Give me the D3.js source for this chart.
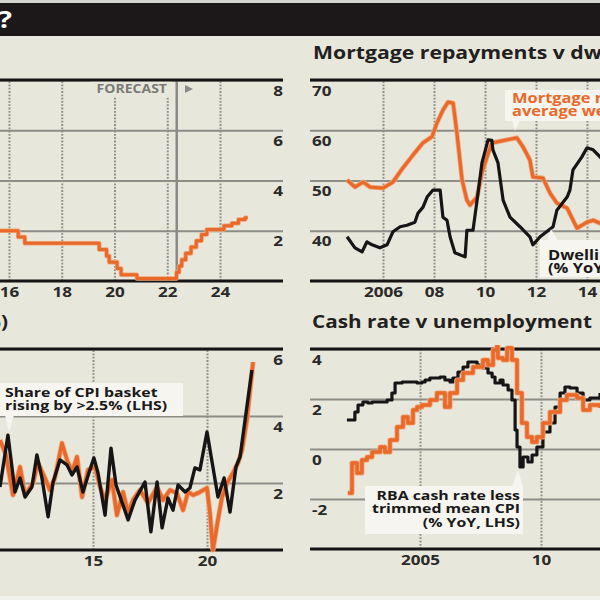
<!DOCTYPE html>
<html><head><meta charset="utf-8">
<script src="https://cdn.jsdelivr.net/npm/d3@7"></script>
<style>
html,body{margin:0;padding:0;background:#e8e7db;}
svg{display:block;}
text{font-family:"Open Sans",sans-serif;font-weight:700;}
</style></head><body>
<svg id="c" width="600" height="600"></svg>
<script>
// ---------- DATA ----------
// Top-left: RBA cash rate (%), actual + forecast
const cashRateYear  = [15.5,16.35,16.6,19.42,19.7,19.8,20.1,20.25,20.85,22.35,22.45,22.55,22.7,22.9,23.1,23.3,23.5,24.15,24.45,24.7,24.95,25.05];
const cashRateValue = [2.0,1.75,1.5,1.25,1.0,0.75,0.5,0.25,0.1,0.35,0.6,0.85,1.1,1.35,1.6,1.85,2.05,2.2,2.3,2.45,2.52,2.52];
const tlXTicks = [14,16,18,20,22,24];
const tlYTicks = [2,4,6,8];

// Top-right: mortgage repayments v dwelling prices
const dwellYear  = [2004.59,2004.9,2005.18,2005.37,2005.57,2005.88,2006.16,2006.39,2006.67,2006.94,2007.25,2007.37,2007.57,2007.73,2007.96,2008.24,2008.35,2008.51,2008.63,2008.82,2009.22,2009.29,2009.53,2009.69,2009.88,2010.12,2010.27,2010.31,2010.51,2010.71,2010.98,2011.37,2011.76,2011.88,2012.16,2012.67,2012.82,2013.22,2013.33,2013.45,2013.8,2014.0,2014.24,2014.51,2014.8];
const dwellValue = [38.8,36.6,35.8,37.8,37.2,36.6,37.2,39.8,40.8,41.1,41.7,43.5,44.7,46.7,48.1,48.1,42.7,42.1,38.8,35.6,34.8,40.1,40.1,46.1,53.5,58.1,58.0,56.1,53.5,46.1,42.7,40.8,38.8,37.2,38.8,40.8,44.1,46.7,48.1,52.1,54.7,56.5,56.1,54.7,53.0];
const mortYear  = [2004.59,2004.9,2005.22,2005.49,2006.0,2006.39,2006.78,2007.18,2007.57,2007.92,2008.12,2008.35,2008.55,2008.75,2008.9,2009.1,2009.29,2009.41,2009.69,2009.88,2010.08,2010.27,2010.47,2010.86,2011.25,2011.49,2011.76,2011.88,2012.27,2012.55,2012.82,2013.22,2013.61,2014.0,2014.24,2014.51,2014.8];
const mortValue = [50.1,48.7,49.7,48.7,48.5,49.7,52.5,55.1,57.5,58.7,61.5,64.0,65.6,65.4,59.4,50.1,46.1,45.1,46.7,51.5,54.7,57.5,57.7,58.1,58.5,56.7,54.1,50.7,50.5,47.5,45.5,44.5,40.5,41.7,42.1,41.5,41.8];
const trXTicks = [2006,2008,2010,2012,2014];
const trYTicks = [40,50,60,70];

// Bottom-left: share of CPI basket rising >2.5% and inflation
const shareYear  = [10.92,11.27,11.58,11.8,12.02,12.32,12.54,12.76,13.03,13.25,13.55,13.86,14.08,14.3,14.56,14.82,15.04,15.22,15.53,15.79,16.01,16.27,16.54,16.84,17.28,17.54,17.81,18.03,18.29,18.51,18.73,19.04,19.25,19.47,19.69,20.0,20.26,20.48,20.75,21.01,21.27,21.45,21.67,21.97];
const shareValue = [1.88,3.43,1.73,2.15,1.58,1.88,2.84,2.15,0.99,2.03,2.69,2.54,2.24,2.48,1.73,2.3,2.75,2.3,1.04,3.04,1.94,1.43,0.9,1.49,2.03,0.54,2.03,0.66,1.55,1.19,1.94,1.73,1.85,2.45,2.39,3.52,2.48,1.58,2.15,1.13,2.48,2.78,3.88,5.37];
const cpiYear  = [10.92,11.18,11.49,11.8,12.02,12.37,12.59,12.89,13.11,13.33,13.64,13.86,14.08,14.3,14.52,14.78,15.09,15.31,15.53,15.83,16.05,16.32,16.54,16.75,17.06,17.41,17.81,18.07,18.38,18.68,18.95,19.17,19.39,19.69,20.0,20.13,20.26,20.48,20.66,20.88,21.14,21.36,21.54,21.75,22.02];
const cpiValue = [3.28,2.84,1.64,2.48,1.64,2.0,2.6,2.15,1.79,2.15,3.19,2.69,2.33,2.78,1.58,2.39,2.48,1.88,1.49,2.09,1.04,1.73,1.1,1.49,1.79,1.4,1.88,1.49,1.79,1.7,1.19,1.73,1.64,1.73,1.85,1.1,0.0,0.9,1.58,2.0,2.3,2.6,2.99,3.88,5.61];
const blXTicks = [10,15,20];
const blYTicks = [2,4,6];

// Bottom-right: cash rate v unemployment
const realYear  = [2001.98,2002.23,2002.31,2002.44,2002.64,2002.85,2003.02,2003.64,2003.84,2003.97,2004.26,2004.88,2005.08,2005.21,2005.41,2005.83,2006.03,2006.24,2006.36,2006.57,2006.78,2006.98,2007.19,2007.36,2007.6,2007.81,2007.98,2008.1,2008.31,2008.43,2008.64,2008.8,2008.93,2009.01,2009.13,2009.26,2009.46,2009.63,2009.83,2010.08,2010.37,2010.58,2010.79,2010.99,2011.2,2011.49,2011.74,2012.02,2012.44];
const realValue = [1.16,1.16,1.48,1.76,1.88,1.84,1.88,1.96,2.24,2.64,2.68,2.64,2.68,2.76,2.84,2.88,2.76,2.68,2.84,3.08,3.28,3.48,3.48,3.36,3.24,3.04,2.88,2.64,2.76,2.56,2.36,1.96,0.76,0.08,-0.72,-0.32,-0.52,-0.24,0.08,0.68,1.04,1.68,2.24,2.48,2.44,2.24,1.96,2.04,2.24];
const unempYear  = [2002.02,2002.19,2002.4,2002.6,2002.81,2003.02,2003.35,2003.55,2003.76,2004.05,2004.3,2004.5,2004.71,2004.88,2005.08,2005.41,2005.7,2006.03,2006.24,2006.53,2006.78,2007.19,2007.6,2007.81,2008.02,2008.18,2008.22,2008.43,2008.6,2008.8,2009.01,2009.21,2009.42,2009.63,2009.83,2010.08,2010.37,2010.79,2011.07,2011.49,2011.74,2012.02,2012.44];
const unempValue = [-1.76,-0.56,-0.96,-0.44,-0.32,-0.12,0.08,-0.12,0.36,0.88,1.28,1.04,1.56,1.68,1.76,1.96,2.24,1.68,2.24,2.76,3.04,3.28,3.56,3.36,3.96,4.12,3.64,3.56,4.04,3.56,2.24,1.04,0.48,0.28,0.48,1.04,1.48,1.96,2.16,2.04,1.56,1.76,1.64];
const brXTicks = [2005,2010];
const brYTicks = [-2,0,2,4];

// ---------- DRAW ----------
const svg = d3.select("#c");
const SX = 1.22;
const ORANGE = "#e9692a", BLACK = "#161414", GRID = "#8d8d88", DOT = "#8f8f8a", INK = "#2b2a2a";
const zip = (a, b) => a.map((v, i) => [v, b[i]]);

svg.append("rect").attr("width",600).attr("height",600).attr("fill","#e8e7db");
svg.append("rect").attr("width",600).attr("height",3).attr("fill","#d3d3cf");
svg.append("rect").attr("y",3).attr("width",600).attr("height",33).attr("fill","#1c1819");
svg.append("rect").attr("y",596).attr("width",600).attr("height",4).attr("fill","#f1f1ee");

function txt(g, x, y, s, size, fill, anchor) {
  return g.append("text").attr("transform", `translate(${x},${y}) scale(${SX},1)`)
    .attr("font-size", size).attr("fill", fill).attr("text-anchor", anchor || "start").text(s);
}
function txtLines(g, x, y, lines, size, fill, anchor, lh) {
  const t = g.append("text").attr("transform", `translate(${x},${y}) scale(${SX},1)`)
    .attr("font-size", size).attr("fill", fill).attr("text-anchor", anchor || "start");
  lines.forEach((s, i) => t.append("tspan").attr("x", 0).attr("dy", i ? lh : 0).text(s));
  return t;
}
txt(svg, 12, 28, "Where to for rates?", 24, "#ffffff", "end");

function panel(cfg) {
  const g = svg.append("g");
  const x = d3.scaleLinear().domain(cfg.xDomain).range(cfg.xRange);
  const y = d3.scaleLinear().domain(cfg.yDomain).range(cfg.yRange);
  const top = cfg.yRange[1], bottom = cfg.yRange[0];
  const id = "clip" + cfg.name;
  svg.append("clipPath").attr("id", id).append("rect")
    .attr("x", cfg.left).attr("y", top - 4).attr("width", cfg.right - cfg.left).attr("height", bottom - top + 8);

  // horizontal gridlines with labels
  const ya = g.append("g").attr("transform", `translate(${cfg.left},0)`)
    .call(d3.axisRight(y).tickValues(cfg.yTicks).tickSize(cfg.right - cfg.left).tickFormat(d => String(d)));
  ya.select(".domain").remove();
  ya.selectAll("line").attr("stroke", GRID).attr("stroke-width", 2.2);
  ya.selectAll("text").attr("x", null).attr("dy", null)
    .attr("transform", `translate(${cfg.labelX - cfg.left},15) scale(${SX},1)`)
    .attr("text-anchor", cfg.labelAnchor).attr("font-size", 14).attr("fill", INK)
    .attr("font-family", "Open Sans").attr("font-weight", 700);

  // vertical dotted gridlines
  const xg = g.append("g").attr("transform", `translate(0,${bottom})`)
    .call(d3.axisBottom(x).tickValues(cfg.xTicks).tickSize(-(bottom - top)).tickFormat(""));
  xg.select(".domain").remove();
  xg.selectAll("line").attr("stroke", DOT).attr("stroke-width", 2).attr("stroke-dasharray", "1.8,1.5");

  // x labels
  const xa = g.append("g").attr("transform", `translate(0,${bottom})`)
    .call(d3.axisBottom(x).tickValues(cfg.xTicks).tickSize(0).tickFormat(cfg.xFmt));
  xa.select(".domain").remove();
  xa.selectAll("text").attr("y", null).attr("dy", null)
    .attr("transform", `translate(0,16) scale(${SX},1)`)
    .attr("font-size", 14).attr("fill", INK).attr("font-family", "Open Sans").attr("font-weight", 700);

  if (cfg.extra) cfg.extra(g, x, y, top, bottom);

  // top & bottom black rules
  g.append("line").attr("x1", cfg.left).attr("x2", cfg.right).attr("y1", top).attr("y2", top)
    .attr("stroke", BLACK).attr("stroke-width", 3);
  g.append("line").attr("x1", cfg.left).attr("x2", cfg.right).attr("y1", bottom).attr("y2", bottom)
    .attr("stroke", BLACK).attr("stroke-width", 3);

  const lg = g.append("g").attr("clip-path", `url(#${id})`);
  cfg.series.forEach(s => {
    const line = d3.line().x(d => x(d[0])).y(d => y(d[1])).curve(s.curve || d3.curveLinear);
    if (s.color === ORANGE) {
      lg.append("path").datum(s.data).attr("d", line).attr("fill", "none")
        .attr("stroke", "#f2a67a").attr("stroke-width", s.width + 1.6).attr("stroke-linejoin", "round");
    }
    lg.append("path").datum(s.data).attr("d", line).attr("fill", "none")
      .attr("stroke", s.color).attr("stroke-width", s.width).attr("stroke-linejoin", "round");
  });
  return {g, x, y};
}

// Top-left
panel({
  name: "tl", left: -10, right: 283, xDomain: [16, 24], xRange: [9, 220], yDomain: [0, 8], yRange: [281, 80],
  yTicks: tlYTicks, labelX: 283, labelAnchor: "end", xTicks: tlXTicks, xFmt: d => String(d),
  extra: (g, x, y, top, bottom) => {
    g.append("rect").attr("x", 90).attr("y", top).attr("width", 82).attr("height", 17).attr("fill", "#e8e7db");
    g.append("line").attr("x1", x(22.36)).attr("x2", x(22.36)).attr("y1", top).attr("y2", bottom)
      .attr("stroke", "#8a8a86").attr("stroke-width", 2.5);
    txt(g, 167, 93, "FORECAST", 11.5, "#7a7a76", "end");
    g.append("path").attr("d", "M185,85 L193,89 L185,93 Z").attr("fill", "#8a8a86");
  },
  series: [{data: zip(cashRateYear, cashRateValue), color: ORANGE, width: 3, curve: d3.curveStepAfter}]
});

// Top-right
panel({
  name: "tr", left: 310, right: 610, xDomain: [2006, 2014], xRange: [383, 587], yDomain: [30, 70], yRange: [281, 80],
  yTicks: trYTicks, labelX: 312, labelAnchor: "start", xTicks: trXTicks,
  xFmt: d => d === 2006 ? "2006" : String(d).slice(2),
  series: [
    {data: zip(mortYear, mortValue), color: ORANGE, width: 3.2},
    {data: zip(dwellYear, dwellValue), color: BLACK, width: 3.2}
  ]
});
txt(svg, 313, 59, "Mortgage repayments v dwelling prices", 17.4, "#231f20");
{
  const g = svg.append("g");
  g.append("rect").attr("x", 505).attr("y", 90).attr("width", 100).attr("height", 31).attr("fill", "#f6f5ef");
  g.append("path").attr("d", "M512,120 L520,120 L515,131 Z").attr("fill", "#f6f5ef");
  txtLines(g, 512, 103, ["Mortgage repayments", "average weekly earnings"], 13.5, ORANGE, "start", 13);
  g.append("rect").attr("x", 540).attr("y", 240).attr("width", 65).attr("height", 37).attr("fill", "#f6f5ef");
  g.append("path").attr("d", "M547,241 L558,241 L551,229 Z").attr("fill", "#f6f5ef");
  txtLines(g, 548, 260, ["Dwelling prices", "(% YoY, RHS)"], 13.5, "#1a1818", "start", 13);
}

// Bottom-left
panel({
  name: "bl", left: -10, right: 283, xDomain: [15, 20], xRange: [93, 207], yDomain: [0, 6], yRange: [550, 349],
  yTicks: blYTicks, labelX: 283, labelAnchor: "end", xTicks: blXTicks, xFmt: d => String(d),
  series: [
    {data: zip(cpiYear, cpiValue), color: ORANGE, width: 3.5},
    {data: zip(shareYear, shareValue), color: BLACK, width: 3.4}
  ]
});
txt(svg, 8, 328, "Breadth of inflation (%)", 17, "#231f20", "end");
{
  const g = svg.append("g");
  g.append("rect").attr("x", -5).attr("y", 383).attr("width", 188).attr("height", 33).attr("fill", "#f6f5ef");
  g.append("path").attr("d", "M5,415 L14,415 L9,432 Z").attr("fill", "#f6f5ef");
  txtLines(g, 5, 397, ["Share of CPI basket", "rising by >2.5% (LHS)"], 13, "#1a1818", "start", 13);
}

// Bottom-right
panel({
  name: "br", left: 310, right: 610, xDomain: [2005, 2010], xRange: [420, 541], yDomain: [-4, 4], yRange: [549, 349],
  yTicks: brYTicks, labelX: 312, labelAnchor: "start", xTicks: brXTicks,
  xFmt: d => d === 2005 ? "2005" : String(d).slice(2),
  series: [
    {data: zip(realYear, realValue), color: BLACK, width: 3.2, curve: d3.curveStepAfter},
    {data: zip(unempYear, unempValue), color: ORANGE, width: 3.5, curve: d3.curveStepAfter}
  ]
});
txt(svg, 312, 328, "Cash rate v unemployment", 17, "#231f20");
{
  const g = svg.append("g");
  g.append("rect").attr("x", 365).attr("y", 486).attr("width", 158).attr("height", 48).attr("fill", "#f6f5ef");
  g.append("path").attr("d", "M512,487 L523,487 L518,470 Z").attr("fill", "#f6f5ef");
  txtLines(g, 520, 500, ["RBA cash rate less", "trimmed mean CPI", "(% YoY, LHS)"], 13, "#1a1818", "end", 13.5);
}
</script>
</body></html>
